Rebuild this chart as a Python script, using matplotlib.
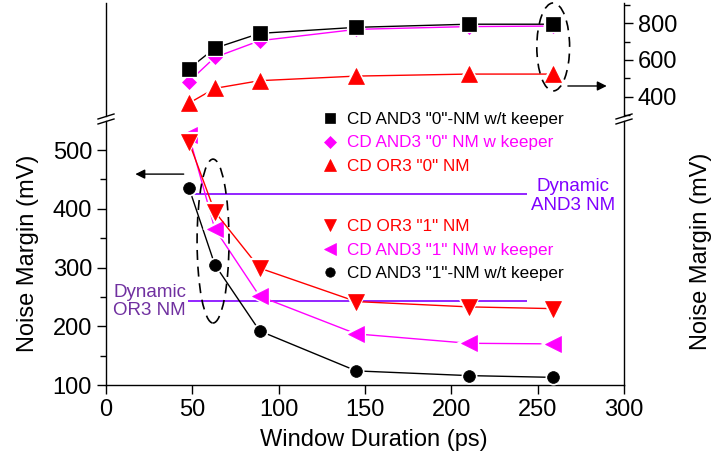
import numpy as np
import matplotlib.pyplot as plt
from matplotlib.patches import Ellipse
from matplotlib.lines import Line2D
from matplotlib.ticker import MultipleLocator

plt.rcParams['font.family'] = ['Liberation Sans', 'DejaVu Sans']

window = [48, 63, 89, 145, 210, 259]

# "0" noise margins, right axis (top panel)
and3_0_wt = [552, 664, 745, 778, 795, 795]
and3_0_w = [482, 614, 705, 767, 782, 785]
or3_0 = [364, 445, 487, 512, 523, 523]

# "1" noise margins, left axis (bottom panel)
or3_1 = [514, 395, 299, 242, 233, 230]
and3_1_w = [525, 366, 251, 187, 171, 170]
and3_1_wt = [436, 305, 192, 124, 116, 113]

dyn_and3 = 425
dyn_or3 = 243
dyn_span = [47.6, 243.6]

fontsize = 17
legsize = 12.3
notesize = 13.5
purple = '#8000ff'

W, H = 716, 466
fig = plt.figure(figsize=(W / 100, H / 100), dpi=100)
left, right = 106 / W, 624 / W
ax_t = fig.add_axes([left, 1 - 116 / H, right - left, (116 - 3) / H])
ax_b = fig.add_axes([left, 1 - 385 / H, right - left, (385 - 121) / H])


def series(ax, y, marker, color, ms, label, z):
    ax.plot(window, y, color=color, lw=1, zorder=z)
    ax.plot(window, y, ls='none', marker=marker, ms=ms, mfc=color,
            mec='white', mew=3, zorder=z + 1)
    h, = ax.plot(window, y, ls='none', marker=marker, ms=ms, mfc=color,
                 mec=color, mew=0.5, zorder=z + 2, color=color, label=label)
    return h


h3 = series(ax_t, or3_0, '^', 'red', 11, 'CD OR3 "0" NM', 3)
h2 = series(ax_t, and3_0_w, 'D', 'magenta', 7.5, 'CD AND3 "0" NM w keeper', 6)
h1 = series(ax_t, and3_0_wt, 's', 'black', 9.5, 'CD AND3 "0"-NM w/t keeper', 9)

h6 = series(ax_b, and3_1_wt, 'o', 'black', 8.5, 'CD AND3 "1"-NM w/t keeper', 3)
h5 = series(ax_b, and3_1_w, '<', 'magenta', 11, 'CD AND3 "1" NM w keeper', 6)
h4 = series(ax_b, or3_1, 'v', 'red', 11, 'CD OR3 "1" NM', 9)

ax_b.hlines([dyn_and3, dyn_or3], dyn_span[0], dyn_span[1], color=purple,
            lw=1.2, zorder=2)
ax_b.text(270.7, 421.0, 'Dynamic\nAND3 NM', color=purple, ha='center',
          va='center', fontsize=notesize, linespacing=1.15)
ax_b.text(25.2, 242, 'Dynamic\nOR3 NM', color='#7030a0', ha='center',
          va='center', fontsize=notesize, linespacing=1.1)

# dashed ellipses and arrows
ax_b.add_patch(Ellipse((62, 345), 18.5, 279, fill=False, ec='k', lw=1.2,
                       ls=(0, (6, 4)), zorder=20))
ax_t.add_patch(Ellipse((259, 671), 19, 480, fill=False, ec='k', lw=1.2,
                       ls=(0, (6, 4)), zorder=20, clip_on=False))
arrow = dict(arrowstyle='-|>', color='k', lw=1, mutation_scale=14,
             shrinkA=0, shrinkB=0)
ax_b.annotate('', xy=(17, 459), xytext=(45, 459), arrowprops=arrow)
ax_t.annotate('', xy=(290, 458), xytext=(267.5, 458), arrowprops=arrow,
              annotation_clip=False)

# axes
for ax in (ax_t, ax_b):
    ax.set_xlim(0, 300)
    for sp in ax.spines.values():
        sp.set_linewidth(1.0)

ax_t.set_ylim(294.3, 910.7)
ax_t.spines['top'].set_visible(False)
ax_t.spines['bottom'].set_visible(False)
ax_t.set_xticks([])
ax_t.yaxis.tick_right()
ax_t.yaxis.set_major_locator(MultipleLocator(200))
ax_t.yaxis.set_minor_locator(MultipleLocator(100))
ax_t.tick_params(axis='y', which='major', direction='out', length=6.5,
                 width=1, labelsize=fontsize)
ax_t.tick_params(axis='y', which='minor', direction='out', length=4.3,
                 width=1)

ax_b.set_ylim(100, 549.4)
ax_b.spines['top'].set_visible(False)
ax_b.set_xticks(np.arange(0, 301, 50))
ax_b.yaxis.set_major_locator(MultipleLocator(100))
ax_b.yaxis.set_minor_locator(MultipleLocator(50))
ax_b.tick_params(which='major', direction='out', length=6.5, width=1,
                 labelsize=fontsize)
ax_b.tick_params(which='minor', direction='out', length=4.3, width=1)
ax_b.set_xlabel('Window Duration (ps)', fontsize=fontsize)
ax_b.xaxis.set_label_coords((374 - 106) / 518, -0.165)
ax_b.set_ylabel('Noise Margin (mV)', fontsize=fontsize)
ax_b.yaxis.set_label_coords(-0.129, 0.5)
fig.text(701 / W, 1 - 251 / H, 'Noise Margin (mV)', rotation=90,
         ha='center', va='center', fontsize=fontsize)

# legends
leg_kw = dict(loc='upper left', bbox_transform=fig.transFigure,
              frameon=False, fontsize=legsize, handlelength=1.0,
              handletextpad=0.49, labelspacing=0.48, borderpad=0,
              borderaxespad=0, labelcolor='markerfacecolor', markerscale=0.8)
leg1 = ax_b.legend(handles=[h1, h2, h3],
                   bbox_to_anchor=(321.5 / W, 1 - 112.3 / H), **leg_kw)
ax_b.add_artist(leg1)
ax_b.legend(handles=[h4, h5, h6],
            bbox_to_anchor=(321.5 / W, 1 - 219.3 / H), **leg_kw)

# axis break marks
for xc in (106, 624):
    for yc in (116.5, 121.5):
        fig.add_artist(Line2D([(xc - 8) / W, (xc + 8) / W],
                              [1 - (yc + 2.5) / H, 1 - (yc - 2.5) / H],
                              transform=fig.transFigure, color='k', lw=1))

fig.savefig('out.png', dpi=100)
